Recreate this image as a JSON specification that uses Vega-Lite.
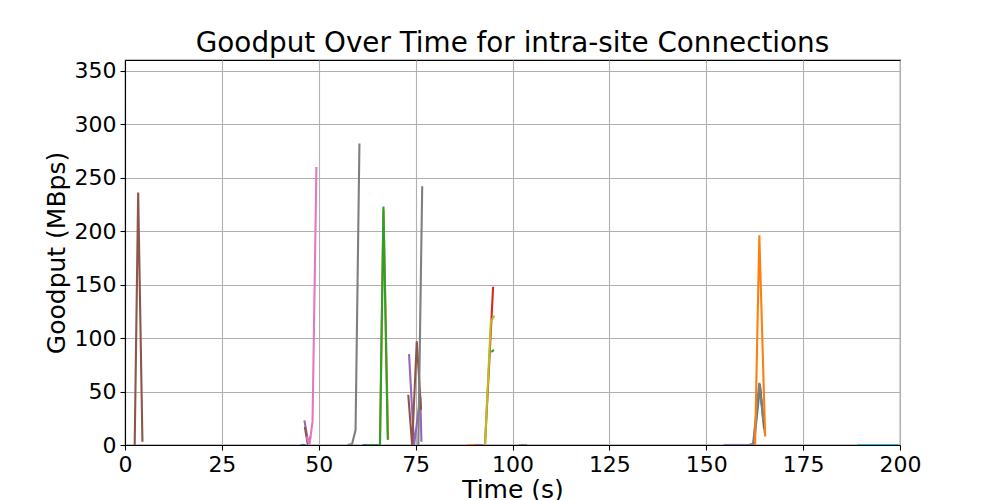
{
  "$schema": "https://vega.github.io/schema/vega-lite/v6.json",
  "width": 775,
  "height": 385,
  "autosize": {"type": "none"},
  "padding": {"left": 125, "top": 60, "right": 100, "bottom": 55},
  "background": "white",
  "title": {"text": "Goodput Over Time for intra-site Connections", "font": "DejaVu Sans", "fontSize": 27.8, "fontWeight": "normal", "color": "black", "offset": 2},
  "config": {
    "view": {"stroke": "black", "strokeWidth": 1.1},
    "axis": {
      "domainColor": "black", "domainWidth": 1.1, "tickColor": "black", "tickSize": 5, "tickWidth": 1.1,
      "labelFont": "DejaVu Sans", "labelFontSize": 22, "labelColor": "black", "labelPadding": 4, "labelFlush": false,
      "titleFont": "DejaVu Sans", "titleFontSize": 25, "titleFontWeight": "normal", "titleColor": "black",
      "gridColor": "#b0b0b0", "gridWidth": 1.1
    }
  },
  "data": {"values": [
    {"s": "s01", "i": 1, "t": 2.5, "g": 0}, {"s": "s01", "i": 2, "t": 3.4, "g": 236}, {"s": "s01", "i": 3, "t": 4.5, "g": 3},
    {"s": "s02", "i": 1, "t": 45.3, "g": 0}, {"s": "s02", "i": 2, "t": 46.6, "g": 0},
    {"s": "s03", "i": 1, "t": 46.3, "g": 23}, {"s": "s03", "i": 2, "t": 47.4, "g": 0},
    {"s": "s04", "i": 1, "t": 46.4, "g": 17}, {"s": "s04", "i": 2, "t": 47.2, "g": 0}, {"s": "s04", "i": 3, "t": 47.9, "g": 8},
    {"s": "s05", "i": 1, "t": 46.9, "g": 8}, {"s": "s05", "i": 2, "t": 47.6, "g": 0}, {"s": "s05", "i": 3, "t": 48.4, "g": 22}, {"s": "s05", "i": 4, "t": 49.4, "g": 260},
    {"s": "s06", "i": 1, "t": 57.4, "g": 0}, {"s": "s06", "i": 2, "t": 58.6, "g": 1}, {"s": "s06", "i": 3, "t": 59.5, "g": 14}, {"s": "s06", "i": 4, "t": 60.5, "g": 282},
    {"s": "s07", "i": 1, "t": 61.3, "g": 0}, {"s": "s07", "i": 2, "t": 63.0, "g": 0},
    {"s": "s08", "i": 1, "t": 62.5, "g": 0}, {"s": "s08", "i": 2, "t": 65.8, "g": 0}, {"s": "s08", "i": 3, "t": 66.7, "g": 220}, {"s": "s08", "i": 4, "t": 67.9, "g": 5},
    {"s": "s09", "i": 1, "t": 62.6, "g": 0}, {"s": "s09", "i": 2, "t": 65.8, "g": 0}, {"s": "s09", "i": 3, "t": 66.7, "g": 223}, {"s": "s09", "i": 4, "t": 67.8, "g": 5},
    {"s": "s10", "i": 1, "t": 73.3, "g": 85}, {"s": "s10", "i": 2, "t": 74.6, "g": 0}, {"s": "s10", "i": 3, "t": 76.2, "g": 45}, {"s": "s10", "i": 4, "t": 76.5, "g": 3},
    {"s": "s11", "i": 1, "t": 73.1, "g": 47}, {"s": "s11", "i": 2, "t": 74.1, "g": 0}, {"s": "s11", "i": 3, "t": 75.3, "g": 97}, {"s": "s11", "i": 4, "t": 76.4, "g": 33},
    {"s": "s12", "i": 1, "t": 75.7, "g": 0}, {"s": "s12", "i": 2, "t": 76.7, "g": 242},
    {"s": "s13", "i": 1, "t": 88.3, "g": 0}, {"s": "s13", "i": 2, "t": 90.3, "g": 0},
    {"s": "s14", "i": 1, "t": 90.3, "g": 0}, {"s": "s14", "i": 2, "t": 92.5, "g": 0},
    {"s": "s15", "i": 1, "t": 92.9, "g": 0}, {"s": "s15", "i": 2, "t": 95.0, "g": 148},
    {"s": "s16", "i": 1, "t": 92.9, "g": 0}, {"s": "s16", "i": 2, "t": 94.4, "g": 115}, {"s": "s16", "i": 3, "t": 95.3, "g": 121},
    {"s": "s17", "i": 1, "t": 94.5, "g": 87}, {"s": "s17", "i": 2, "t": 95.2, "g": 89},
    {"s": "s18", "i": 1, "t": 101.6, "g": 0}, {"s": "s18", "i": 2, "t": 103.7, "g": 0},
    {"s": "s19", "i": 1, "t": 154.5, "g": 0}, {"s": "s19", "i": 2, "t": 161.0, "g": 0},
    {"s": "s21", "i": 1, "t": 162.3, "g": 0}, {"s": "s21", "i": 2, "t": 163.9, "g": 55}, {"s": "s21", "i": 3, "t": 164.9, "g": 15},
    {"s": "s20", "i": 1, "t": 161.0, "g": 0}, {"s": "s20", "i": 2, "t": 162.2, "g": 1}, {"s": "s20", "i": 3, "t": 163.8, "g": 57}, {"s": "s20", "i": 4, "t": 165.2, "g": 9},
    {"s": "s22", "i": 1, "t": 161.3, "g": 0}, {"s": "s22", "i": 2, "t": 162.1, "g": 1}, {"s": "s22", "i": 3, "t": 163.7, "g": 58}, {"s": "s22", "i": 4, "t": 164.7, "g": 23},
    {"s": "s23", "i": 1, "t": 162.6, "g": 0}, {"s": "s23", "i": 2, "t": 163.7, "g": 196}, {"s": "s23", "i": 3, "t": 165.2, "g": 8},
    {"s": "s24", "i": 1, "t": 189.0, "g": 0}, {"s": "s24", "i": 2, "t": 199.6, "g": 0}
  ]},
  "mark": {"type": "line", "strokeWidth": 2.1, "clip": true},
  "encoding": {
    "x": {"field": "t", "type": "quantitative", "title": "Time (s)",
      "scale": {"domain": [0, 200], "nice": false, "zero": false},
      "axis": {"values": [0, 25, 50, 75, 100, 125, 150, 175, 200], "titlePadding": 2}},
    "y": {"field": "g", "type": "quantitative", "title": "Goodput (MBps)",
      "scale": {"domain": [0, 360], "nice": false},
      "axis": {"values": [0, 50, 100, 150, 200, 250, 300, 350], "titlePadding": 5}},
    "color": {"field": "s", "type": "nominal", "legend": null,
      "scale": {
        "domain": ["s01","s02","s03","s04","s05","s06","s07","s08","s09","s10","s11","s12","s13","s14","s15","s16","s17","s18","s19","s21","s20","s22","s23","s24"],
        "range": ["#8c564b","#1f77b4","#9467bd","#8c564b","#e377c2","#7f7f7f","#1f77b4","#ff7f0e","#2ca02c","#9467bd","#8c564b","#7f7f7f","#ff7f0e","#9467bd","#d62728","#bcbd22","#2ca02c","#7f7f7f","#9467bd","#17becf","#8c564b","#7f7f7f","#ff7f0e","#17becf"]}},
    "order": {"field": "i", "type": "quantitative"}
  }
}
